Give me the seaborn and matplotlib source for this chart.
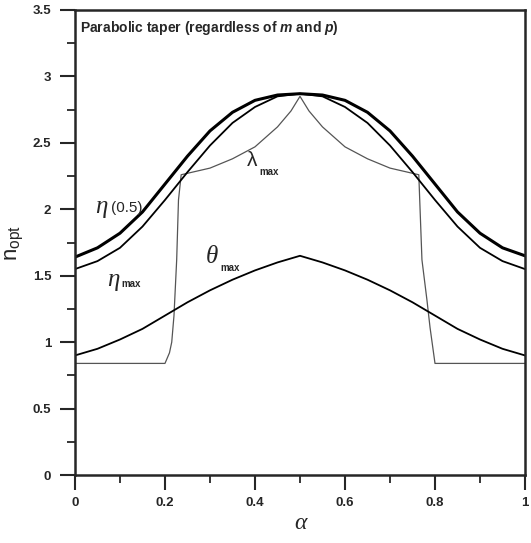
import numpy as np
import pandas as pd
import seaborn as sns
from matplotlib import pyplot as plt
from matplotlib.ticker import MultipleLocator

# values
alpha = [0.0, 0.05, 0.1, 0.15, 0.2, 0.25, 0.3, 0.35, 0.4, 0.45, 0.5,
         0.55, 0.6, 0.65, 0.7, 0.75, 0.8, 0.85, 0.9, 0.95, 1.0]
eta_05 = [1.64, 1.71, 1.82, 1.98, 2.19, 2.40, 2.59, 2.73, 2.82, 2.86, 2.87,
          2.86, 2.82, 2.73, 2.59, 2.40, 2.19, 1.98, 1.82, 1.71, 1.65]
eta_max = [1.55, 1.61, 1.71, 1.87, 2.07, 2.28, 2.48, 2.65, 2.77, 2.85, 2.87,
           2.85, 2.77, 2.65, 2.48, 2.28, 2.07, 1.87, 1.71, 1.61, 1.55]
theta_max = [0.90, 0.95, 1.02, 1.10, 1.20, 1.30, 1.39, 1.47, 1.54, 1.60, 1.65,
             1.60, 1.54, 1.47, 1.39, 1.30, 1.20, 1.10, 1.02, 0.95, 0.90]

alpha_lam = [0.0, 0.1, 0.2, 0.21, 0.215, 0.22, 0.226, 0.23, 0.236, 0.3, 0.35, 0.4,
             0.45, 0.48, 0.5, 0.52, 0.55, 0.6, 0.65, 0.7, 0.764, 0.771, 0.782,
             0.789, 0.8, 0.9, 1.0]
lambda_max = [0.84, 0.84, 0.84, 0.92, 1.00, 1.20, 1.62, 2.07, 2.26, 2.31, 2.38, 2.47,
              2.62, 2.74, 2.85, 2.74, 2.62, 2.47, 2.38, 2.31, 2.26, 1.62, 1.32,
              1.11, 0.84, 0.84, 0.84]

sns.set_style('ticks')
plt.rcParams['font.family'] = ['Liberation Sans', 'DejaVu Sans']
plt.rcParams['mathtext.fontset'] = 'custom'
plt.rcParams['mathtext.rm'] = 'Liberation Sans'
plt.rcParams['mathtext.it'] = 'Liberation Sans:italic:bold'
plt.rcParams['mathtext.bf'] = 'Liberation Sans:bold'

df = pd.DataFrame({'alpha': alpha, 'eta05': eta_05, 'etamax': eta_max, 'theta': theta_max})
df_lam = pd.DataFrame({'alpha': alpha_lam, 'lam': lambda_max})

fig = plt.figure(figsize=(5.31, 5.43), dpi=100)
ax = fig.add_axes([0.1412, 0.1252, 0.8475, 0.8564])

sns.lineplot(data=df_lam, x='alpha', y='lam', ax=ax, color='#555555', lw=0.9, sort=False)
sns.lineplot(data=df, x='alpha', y='theta', ax=ax, color='black', lw=1.3)
sns.lineplot(data=df, x='alpha', y='etamax', ax=ax, color='black', lw=1.3)
sns.lineplot(data=df, x='alpha', y='eta05', ax=ax, color='black', lw=2.2)

ax.set_xlim(0, 1)
ax.set_ylim(0, 3.5)
ax.xaxis.set_major_locator(MultipleLocator(0.2))
ax.xaxis.set_minor_locator(MultipleLocator(0.1))
ax.yaxis.set_major_locator(MultipleLocator(0.5))
ax.yaxis.set_minor_locator(MultipleLocator(0.25))
ax.set_xticks([0, 0.2, 0.4, 0.6, 0.8, 1.0], ['0', '0.2', '0.4', '0.6', '0.8', '1'])
ax.set_yticks([0, 0.5, 1, 1.5, 2, 2.5, 3, 3.5], ['0', '0.5', '1', '1.5', '2', '2.5', '3', '3.5'])
ax.tick_params(axis='y', which='major', direction='out', length=11, width=1.5, labelsize=9.5, pad=6)
ax.tick_params(axis='x', which='major', direction='out', length=11, width=1.5, labelsize=9.5, pad=5)
ax.tick_params(which='minor', direction='out', length=6, width=1.3)
for lbl in ax.get_xticklabels() + ax.get_yticklabels():
    lbl.set_fontweight('bold')
for sp in ax.spines.values():
    sp.set_linewidth(1.8)

ax.set_xlabel('α', family='Liberation Serif', style='italic', fontsize=17, labelpad=3)
ax.set_ylabel(r'$\mathrm{n}_{\mathrm{opt}}$', fontsize=16)
ax.yaxis.set_label_coords(-0.108, 0.5)

ax.text(0.011, 0.962, 'Parabolic taper (regardless of $m$ and $p$)', transform=ax.transAxes,
        fontsize=10, fontweight='bold', ha='left', va='center')

serif = dict(family='Liberation Serif', style='italic', fontsize=18, va='center', ha='left')
sub = dict(fontsize=7, fontweight='bold', va='center', ha='left')
ax.text(0.045, 2.02, 'η', **serif)
ax.text(0.080, 2.01, '(0.5)', fontsize=11, va='center', ha='left')
ax.text(0.071, 1.47, 'η', **serif)
ax.text(0.102, 1.44, 'max', **sub)
ax.text(0.29, 1.64, 'θ', **serif)
ax.text(0.322, 1.56, 'max', **sub)
ax.text(0.382, 2.37, 'λ', fontsize=15, va='center', ha='left')
ax.text(0.409, 2.28, 'max', **sub)

fig.savefig('out.png', dpi=100)
